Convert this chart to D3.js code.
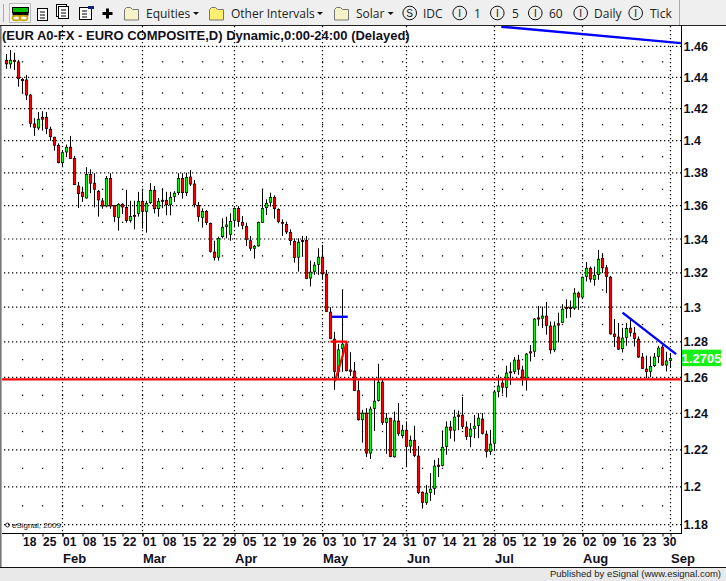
<!DOCTYPE html>
<html>
<head>
<meta charset="utf-8">
<script src="https://cdnjs.cloudflare.com/ajax/libs/d3/7.8.5/d3.min.js"></script>
<style>
html,body{margin:0;padding:0;background:#fff;overflow:hidden}
svg{display:block}
text{font-family:"Liberation Sans",Arial,sans-serif}
</style>
</head>
<body>
<svg id="chart" width="726" height="581"></svg>
<script>
// Daily EUR A0-FX candles, session by session from 12 Jan to 1 Sep.
const highs = [
1.4550,1.4576,1.4559,1.4512,1.4397,1.4415,1.4293,1.4140,1.4179,1.4184,
1.4179,1.4087,1.4024,1.3983,1.3937,1.3975,1.4029,1.3905,1.3744,1.3716,
1.3835,1.3822,1.3798,1.3696,1.3647,1.3781,1.3798,1.3604,1.3615,1.3615,
1.3696,1.3630,1.3630,1.3684,1.3688,1.3630,1.3737,1.3720,1.3647,1.3706,
1.3684,1.3684,1.3688,1.3798,1.3798,1.3801,1.3818,1.3757,1.3623,1.3584,
1.3574,1.3498,1.3390,1.3414,1.3524,1.3534,1.3554,1.3590,1.3598,1.3538,
1.3498,1.3418,1.3365,1.3504,1.3700,1.3639,1.3679,1.3663,1.3584,1.3518,
1.3504,1.3458,1.3404,1.3404,1.3418,1.3418,1.3272,1.3264,1.3345,1.3365,
1.3217,1.2999,1.2858,1.2789,1.3100,1.2802,1.2742,1.2686,1.2582,1.2419,
1.2428,1.2437,1.2596,1.2676,1.2586,1.2401,1.2375,1.2409,1.2456,1.2336,
1.2355,1.2277,1.2331,1.2221,1.1976,1.2011,1.2074,1.2146,1.2155,1.2305,
1.2355,1.2358,1.2419,1.2415,1.2490,1.2355,1.2346,1.2390,1.2401,1.2401,
1.2305,1.2309,1.2530,1.2614,1.2596,1.2665,1.2684,1.2714,1.2727,1.2665,
1.2737,1.2782,1.2936,1.3007,1.3003,1.3030,1.2917,1.2917,1.2968,1.3017,
1.3046,1.3038,1.3110,1.3090,1.3178,1.3263,1.3237,1.3237,1.3335,1.3316,
1.3246,1.3182,1.2931,1.2908,1.2881,1.2908,1.2936,1.2885,1.2831,1.2737,
1.2722,1.2718,1.2737,1.2778,1.2783,1.2744,1.2737];
const lows = [
1.4454,1.4456,1.4447,1.4340,1.4298,1.4255,1.4083,1.4029,1.4067,1.4062,
1.4041,1.3999,1.3937,1.3859,1.3837,1.3897,1.3886,1.3726,1.3586,1.3623,
1.3643,1.3676,1.3590,1.3534,1.3582,1.3590,1.3582,1.3502,1.3450,1.3550,
1.3498,1.3498,1.3458,1.3534,1.3462,1.3438,1.3610,1.3554,1.3534,1.3585,
1.3542,1.3542,1.3623,1.3665,1.3643,1.3659,1.3720,1.3590,1.3504,1.3468,
1.3484,1.3319,1.3272,1.3272,1.3404,1.3404,1.3390,1.3470,1.3474,1.3458,
1.3359,1.3329,1.3284,1.3355,1.3498,1.3544,1.3594,1.3522,1.3494,1.3418,
1.3430,1.3363,1.3260,1.3207,1.3296,1.3163,1.3120,1.3188,1.3188,1.3159,
1.2971,1.2816,1.2530,1.2596,1.2631,1.2633,1.2608,1.2523,1.2360,1.2239,
1.2160,1.2150,1.2303,1.2465,1.2336,1.2178,1.2160,1.2158,1.2276,1.2263,
1.2113,1.2182,1.2160,1.1962,1.1885,1.1905,1.1926,1.1958,1.2053,1.2110,
1.2173,1.2260,1.2245,1.2307,1.2313,1.2254,1.2214,1.2263,1.2263,1.2283,
1.2158,1.2173,1.2199,1.2488,1.2508,1.2488,1.2558,1.2618,1.2614,1.2553,
1.2526,1.2689,1.2714,1.2892,1.2879,1.2841,1.2733,1.2742,1.2797,1.2908,
1.2936,1.2940,1.2984,1.2984,1.3054,1.3149,1.3143,1.3124,1.3159,1.3198,
1.3081,1.2842,1.2771,1.2755,1.2740,1.2778,1.2831,1.2774,1.2710,1.2646,
1.2596,1.2601,1.2658,1.2680,1.2665,1.2633,1.2652];
const opens = [
1.4510,1.4486,1.4510,1.4499,1.4387,1.4383,1.4287,1.4104,1.4079,1.4146,
1.4146,1.4071,1.4021,1.3971,1.3863,1.3929,1.3959,1.3890,1.3720,1.3682,
1.3647,1.3791,1.3737,1.3688,1.3629,1.3598,1.3767,1.3602,1.3528,1.3609,
1.3590,1.3510,1.3542,1.3554,1.3627,1.3566,1.3618,1.3694,1.3582,1.3633,
1.3633,1.3606,1.3655,1.3679,1.3767,1.3679,1.3775,1.3732,1.3602,1.3528,
1.3566,1.3494,1.3322,1.3292,1.3414,1.3474,1.3428,1.3512,1.3584,1.3500,
1.3476,1.3390,1.3345,1.3359,1.3500,1.3588,1.3621,1.3651,1.3578,1.3500,
1.3488,1.3440,1.3386,1.3292,1.3392,1.3392,1.3169,1.3207,1.3248,1.3292,
1.3192,1.2971,1.2816,1.2633,1.2763,1.2788,1.2641,1.2635,1.2525,1.2364,
1.2401,1.2182,1.2426,1.2471,1.2573,1.2349,1.2373,1.2162,1.2357,1.2277,
1.2307,1.2220,1.2252,1.2166,1.1972,1.1917,1.1970,1.1992,1.2117,1.2115,
1.2218,1.2324,1.2307,1.2390,1.2390,1.2324,1.2272,1.2316,1.2333,1.2368,
1.2285,1.2190,1.2236,1.2521,1.2568,1.2543,1.2631,1.2633,1.2697,1.2641,
1.2593,1.2744,1.2747,1.2938,1.2936,1.2948,1.2891,1.2755,1.2904,1.2911,
1.2999,1.2999,1.2994,1.3081,1.3058,1.3178,1.3227,1.3160,1.3190,1.3286,
1.3229,1.3174,1.2845,1.2828,1.2761,1.2825,1.2879,1.2850,1.2816,1.2714,
1.2646,1.2633,1.2665,1.2718,1.2771,1.2669,1.2695];
const closes = [
1.4486,1.4510,1.4501,1.4391,1.4378,1.4287,1.4108,1.4083,1.4134,1.4134,
1.4075,1.4024,1.3971,1.3863,1.3925,1.3959,1.3888,1.3728,1.3673,1.3655,
1.3791,1.3737,1.3700,1.3635,1.3598,1.3767,1.3598,1.3534,1.3609,1.3592,
1.3510,1.3534,1.3538,1.3627,1.3566,1.3615,1.3694,1.3582,1.3627,1.3629,
1.3606,1.3651,1.3676,1.3767,1.3679,1.3773,1.3732,1.3606,1.3534,1.3566,
1.3498,1.3325,1.3290,1.3404,1.3470,1.3484,1.3506,1.3584,1.3504,1.3482,
1.3398,1.3345,1.3357,1.3500,1.3584,1.3615,1.3651,1.3582,1.3504,1.3494,
1.3442,1.3390,1.3290,1.3381,1.3384,1.3166,1.3204,1.3245,1.3292,1.3194,
1.2974,1.2819,1.2633,1.2755,1.2788,1.2637,1.2633,1.2526,1.2364,1.2401,
1.2182,1.2423,1.2467,1.2573,1.2349,1.2373,1.2163,1.2358,1.2289,1.2307,
1.2218,1.2252,1.2169,1.1970,1.1917,1.1967,1.1988,1.2112,1.2110,1.2214,
1.2324,1.2307,1.2379,1.2382,1.2327,1.2272,1.2313,1.2329,1.2373,1.2289,
1.2190,1.2231,1.2518,1.2551,1.2545,1.2624,1.2627,1.2697,1.2646,1.2593,
1.2731,1.2737,1.2931,1.2931,1.2948,1.2894,1.2755,1.2891,1.2896,1.2988,
1.2991,1.2991,1.3081,1.3058,1.3174,1.3227,1.3163,1.3186,1.3280,1.3229,
1.3178,1.2846,1.2831,1.2759,1.2822,1.2877,1.2854,1.2819,1.2714,1.2650,
1.2633,1.2661,1.2714,1.2765,1.2669,1.2692,1.2705];

// Week-start sessions with their day labels, and first session of each month.
const weekBars = [4,9,14,19,24,29,34,39,44,49,54,59,64,69,74,79,84,89,94,99,104,109,114,119,124,129,134,139,144,149,154,159,164];
const weekLabels = ["18","25","01","08","15","22","01","08","15","22","29","05","12","19","26","03","10","17","24","31","07","14","21","28","05","12","19","26","02","09","16","23","30"];
const monthBars = [14,34,57,79,100,122,144,166];
const monthLabels = ["Feb","Mar","Apr","May","Jun","Jul","Aug","Sep"];
const priceTicks = [1.46,1.44,1.42,1.40,1.38,1.36,1.34,1.32,1.30,1.28,1.26,1.24,1.22,1.20,1.18];
const midPrices = [1.45,1.43,1.41,1.39,1.37,1.35,1.33,1.31,1.29,1.27,1.25,1.23,1.21,1.19];
const lastPrice = 1.2705;

// Analyst drawings on the chart: [session, price] end points.
const blueLines = [
  [[123.7,1.4728],[168.6,1.4621]],
  [[81.3,1.2944],[85.3,1.2944]],
  [[154,1.2968],[167.4,1.2731]]
];
const redLines = [
  [[-1.1,1.2588],[168.6,1.2588]],
  [[81,1.2802],[85.2,1.2802]],
  [[85.1,1.2802],[82.1,1.2577]]
];

const plot = {left:2, right:681, top:26, bottom:533.5};
const x = d3.scaleLinear().domain([0,166]).range([6.5,670.5]);
const y = d3.scaleLog().domain([1.18,1.46]).range([524.7,46.3]);
const svg = d3.select("#chart");
const INK = "#10101c";

// Window chrome behind the chart
svg.append("rect").attr("width",726).attr("height",25).attr("fill","#efefef");
svg.append("rect").attr("x",0).attr("y",567).attr("width",726).attr("height",14).attr("fill","#e9e9e9");
svg.append("rect").attr("x",0).attr("y",25).attr("width",1.6).attr("height",542).attr("fill","#777");
svg.append("line").attr("x1",0).attr("x2",726).attr("y1",25.5).attr("y2",25.5).attr("stroke","#222");
svg.append("line").attr("x1",0).attr("x2",726).attr("y1",567.5).attr("y2",567.5).attr("stroke","#111");

// Toolbar
const bar = svg.append("g");
bar.append("line").attr("x1",3.5).attr("x2",3.5).attr("y1",4).attr("y2",22).attr("stroke","#aaa");
bar.append("rect").attr("x",9.5).attr("y",3.5).attr("width",21).attr("height",19).attr("fill","#f8f8f8").attr("stroke","#bbb");
bar.append("rect").attr("x",12.5).attr("y",7.5).attr("width",16).attr("height",5).attr("fill","#00c000").attr("stroke","#000");
bar.append("rect").attr("x",12.5).attr("y",12.5).attr("width",16).attr("height",3).attr("fill","#000");
[16.5,23.5].forEach(cx => bar.append("ellipse").attr("cx",cx).attr("cy",18).attr("rx",4).attr("ry",2.4).attr("fill","none").attr("stroke","#c8a000").attr("stroke-width",1.6));
[[37,8],[58,6],[79,7]].forEach(([ix,iy],k) => {
  if (k === 1) bar.append("rect").attr("x",ix-1.5).attr("y",iy-1.5).attr("width",10).attr("height",12).attr("fill","#fff").attr("stroke","#000");
  bar.append("rect").attr("x",ix+0.5).attr("y",iy+0.5).attr("width",k===2?12:10).attr("height",12).attr("fill","#fff").attr("stroke","#000");
  bar.append("path").attr("d",`M${ix+3} ${iy+4}h5M${ix+3} ${iy+7}h5M${ix+3} ${iy+10}h5`).attr("stroke","#000");
});
bar.append("rect").attr("x",88).attr("y",6).attr("width",6).attr("height",3).attr("fill","#102080");
bar.append("path").attr("d","M107.5 8.5v10M102.5 13.5h10").attr("stroke","#000").attr("stroke-width",3);

const toolFont = "Open Sans";
[[124,"#f6f3c8"],[209,"#ffef70"],[334,"#f6f3c8"]].forEach(([fx,fill]) => {
  bar.append("path").attr("d",`M${fx+.5} 9.5l2-2h4l2 2h6v10.5h-14z`).attr("fill",fill).attr("stroke","#777");
});
[[146,"Equities"],[231,"Other Intervals"],[356,"Solar"],[423,"IDC"],[474,"1"],[512,"5"],[549,"60"],[594,"Daily"],[650,"Tick"]]
  .forEach(([tx,label]) => bar.append("text").attr("x",tx).attr("y",18).attr("font-size",12)
    .style("font-family",toolFont).attr("fill","#222").text(label));
[196,320,390.7].forEach(ax => bar.append("path").attr("d",`M${ax-3} 12h6l-3 3z`).attr("fill","#111"));
[[409.7,"S"],[459.7,"I"],[497.3,"I"],[535.3,"I"],[580.7,"I"],[635.7,"I"]].forEach(([cx,label]) => {
  bar.append("circle").attr("cx",cx).attr("cy",13).attr("r",6.8).attr("fill","none").attr("stroke","#111");
  bar.append("text").attr("x",cx).attr("y",17).attr("text-anchor","middle").attr("font-size",10).attr("fill","#111").text(label);
});
bar.append("line").attr("x1",679.5).attr("x2",679.5).attr("y1",0).attr("y2",25).attr("stroke","#aaa");

// Dotted grid: price rows, month columns and the sparse weekly dots between rows
const grid = svg.append("g");
grid.selectAll(".row").data(priceTicks).join("line").attr("class","row")
  .attr("x1",plot.left+2).attr("x2",plot.right)
  .attr("y1",d=>y(d)).attr("y2",d=>y(d))
  .attr("stroke","#000").attr("stroke-width",1.2).attr("stroke-dasharray","1.3 2.7");
grid.selectAll(".col").data(monthBars).join("line").attr("class","col")
  .attr("x1",d=>x(d)).attr("x2",d=>x(d))
  .attr("y1",plot.top).attr("y2",plot.bottom)
  .attr("stroke","#000").attr("stroke-width",1.2).attr("stroke-dasharray","1.3 2.7");
midPrices.forEach(p => {
  grid.append("g").selectAll("rect").data(weekBars).join("rect")
    .attr("x",d=>x(d)-0.6).attr("y",y(p)-0.6).attr("width",1.3).attr("height",1.3).attr("fill","#000");
});

// Candles
const candles = svg.append("g");
const sessions = d3.range(highs.length);
candles.selectAll(".wick").data(sessions).join("line").attr("class","wick")
  .attr("x1",i=>x(i)).attr("x2",i=>x(i))
  .attr("y1",i=>y(highs[i])).attr("y2",i=>y(lows[i]))
  .attr("stroke","#000").attr("stroke-width",1);
candles.selectAll(".body").data(sessions).join("rect").attr("class","body")
  .attr("x",i=>x(i)-1.2).attr("width",2.4)
  .attr("y",i=>y(Math.max(opens[i],closes[i])))
  .attr("height",i=>Math.max(1,Math.abs(y(opens[i])-y(closes[i]))))
  .attr("fill",i=>closes[i]>=opens[i]?"#00ff00":"#ff0000")
  .attr("stroke","#000").attr("stroke-width",0.7);

// Analyst drawings
const segment = d3.line().x(d=>x(d[0])).y(d=>y(d[1]));
const overlay = svg.append("g");
overlay.selectAll(".blue").data(blueLines).join("path").attr("class","blue")
  .attr("d",segment).attr("fill","none").attr("stroke","#0000ff").attr("stroke-width",2.4);
overlay.selectAll(".red").data(redLines).join("path").attr("class","red")
  .attr("d",segment).attr("fill","none").attr("stroke","#ff0000").attr("stroke-width",2.2);

// Cover anything drawn past the plot top, then the title over the plot
svg.append("line").attr("x1",0).attr("x2",726).attr("y1",25.5).attr("y2",25.5).attr("stroke","#222");
svg.append("text").attr("x",2).attr("y",39.5).attr("font-size",13).attr("font-weight","bold").attr("fill",INK)
  .text("(EUR A0-FX - EURO COMPOSITE,D) Dynamic,0:00-24:00 (Delayed)");

// Price axis
const yAxis = svg.append("g").attr("transform",`translate(${plot.right+0.5},0)`)
  .call(d3.axisRight(y).tickValues(priceTicks).tickFormat(d=>String(d)).tickSize(0).tickPadding(2));
yAxis.select(".domain").remove();
yAxis.selectAll("text").attr("font-size",12.5).style("font-family","Liberation Sans").attr("fill",INK).attr("font-weight","bold");
svg.append("line").attr("x1",plot.right+0.5).attr("x2",plot.right+0.5).attr("y1",25).attr("y2",plot.bottom+0.5).attr("stroke","#000");

// Time axis
svg.append("line").attr("x1",plot.left).attr("x2",plot.right+1).attr("y1",plot.bottom).attr("y2",plot.bottom).attr("stroke","#000");
const xWeeks = svg.append("g").attr("transform",`translate(0,${plot.bottom})`)
  .call(d3.axisBottom(x).tickValues(weekBars).tickFormat((d,i)=>weekLabels[i]).tickSize(3).tickPadding(1));
xWeeks.select(".domain").remove();
xWeeks.selectAll("line").attr("stroke","#000");
xWeeks.selectAll("text").attr("text-anchor","start").attr("dx",0).attr("font-size",12)
  .attr("font-weight","bold").style("font-family","Liberation Sans").attr("fill",INK);
const xMonths = svg.append("g").attr("transform",`translate(0,${plot.bottom})`)
  .call(d3.axisBottom(x).tickValues(monthBars).tickFormat((d,i)=>monthLabels[i]).tickSize(3).tickPadding(17));
xMonths.select(".domain").remove();
xMonths.selectAll("line").attr("stroke","#000");
xMonths.selectAll("text").attr("text-anchor","start").attr("font-size",13)
  .attr("font-weight","bold").style("font-family","Liberation Sans").attr("fill",INK);

// Last-price tag
svg.append("rect").attr("x",682).attr("width",39).attr("y",y(lastPrice)-9).attr("height",16.5).attr("fill","#16f016");
svg.append("text").attr("x",701.5).attr("y",y(lastPrice)+4).attr("text-anchor","middle")
  .attr("font-size",13).attr("font-weight","bold").attr("fill","#fff").text(lastPrice.toFixed(4));

// Credits
svg.append("circle").attr("cx",7.5).attr("cy",525).attr("r",2).attr("fill","none").attr("stroke","#000").attr("stroke-width",.8);
svg.append("text").attr("x",12).attr("y",528).attr("font-size",8).attr("fill","#222").text("eSignal, 2009");
svg.append("text").attr("x",721).attr("y",577).attr("text-anchor","end").attr("font-size",9.5).attr("fill","#222")
  .text("Published by eSignal (www.esignal.com)");
</script>
</body>
</html>
